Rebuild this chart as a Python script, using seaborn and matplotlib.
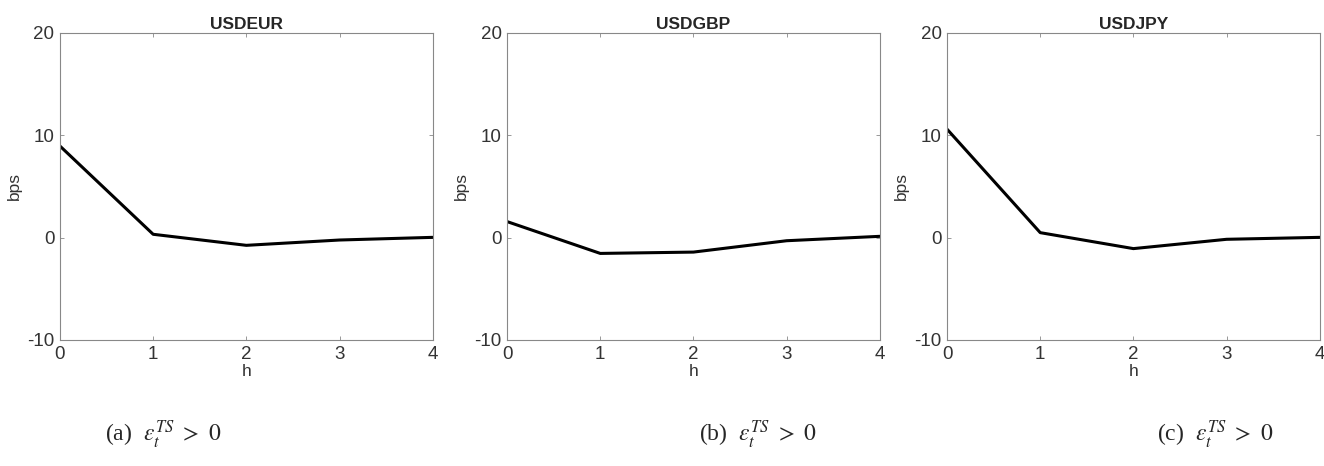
import seaborn as sns
import matplotlib.pyplot as plt
import pandas as pd

sns.set_theme(style="white")
plt.rcParams["font.family"] = ["Liberation Sans", "DejaVu Sans"]
plt.rcParams["mathtext.fontset"] = "stix"
plt.rcParams["axes.unicode_minus"] = False

horizon = [0, 1, 2, 3, 4]
usdeur = [8.95, 0.33, -0.75, -0.23, 0.03]
usdgbp = [1.57, -1.54, -1.41, -0.30, 0.13]
usdjpy = [10.6, 0.49, -1.07, -0.16, 0.03]

pairs = ["USDEUR", "USDGBP", "USDJPY"]
captions = ["(a)", "(b)", "(c)"]
y_ticks = [-10, 0, 10, 20]

series = {"USDEUR": usdeur, "USDGBP": usdgbp, "USDJPY": usdjpy}

fig = plt.figure(figsize=(13.24, 4.66), dpi=100)
lefts = [0.0453, 0.383, 0.7153]
caption_x = [0.079, 0.528, 0.874]

for left, pair, cap, cx in zip(lefts, pairs, captions, caption_x):
    ax = fig.add_axes([left, 0.2704, 0.2815, 0.6588])
    df = pd.DataFrame({"h": horizon, "bps": series[pair]})
    sns.lineplot(data=df, x="h", y="bps", ax=ax, color="black", linewidth=2.2)
    ax.set_xlim(0, 4)
    ax.set_ylim(-10, 20)
    ax.set_xticks(horizon)
    ax.set_yticks(y_ticks)
    ax.set_title(pair, fontsize=12.5, fontweight="bold", pad=3)
    ax.set_xlabel("h", fontsize=12.5, color="#333333", labelpad=1)
    ax.set_ylabel("bps", fontsize=12.5, color="#333333", labelpad=4)
    ax.tick_params(direction="in", length=3, width=0.6, colors="#888888",
                   labelcolor="#333333", labelsize=13.5, pad=4,
                   top=True, right=True, bottom=True, left=True)
    for spine in ax.spines.values():
        spine.set_visible(True)
        spine.set_color("#888888")
        spine.set_linewidth(0.8)
    fig.text(cx, 0.066, cap + r"  $\varepsilon_t^{TS}\ >\ 0$", fontsize=17,
             family=["Liberation Serif", "DejaVu Serif"], ha="left", va="center")

fig.savefig("out.png", dpi=100)
